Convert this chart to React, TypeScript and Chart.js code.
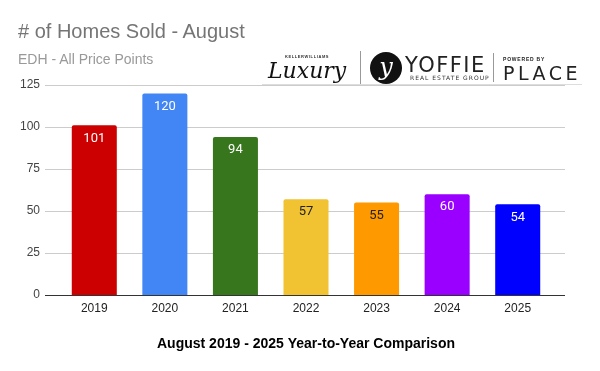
import React, { useEffect, useRef } from "react";
import { Chart, registerables } from "chart.js";

Chart.register(...registerables);

const categories = ["2019", "2020", "2021", "2022", "2023", "2024", "2025"];
const homesSold = [101, 120, 94, 57, 55, 60, 54];
const barColors = ["#cc0000", "#4285f4", "#38761d", "#f1c232", "#ff9900", "#9900ff", "#0000ff"];
const labelColors = ["#ffffff", "#ffffff", "#ffffff", "#222222", "#222222", "#ffffff", "#ffffff"];
const yTicks = [0, 25, 50, 75, 100, 125];

const titleText = "# of Homes Sold - August";
const subtitleText = "EDH - All Price Points";
const xTitleText = "August 2019 - 2025 Year-to-Year Comparison";

const gridPlugin = {
  id: "extGrid",
  beforeDatasetsDraw(chart: any) {
    const { ctx } = chart;
    const y = chart.scales.y;
    ctx.save();
    ctx.strokeStyle = "#cccccc";
    ctx.lineWidth = 1;
    yTicks.forEach((v) => {
      if (v === 0) return;
      const py = Math.round(y.getPixelForValue(v)) + 0.5;
      ctx.beginPath();
      ctx.moveTo(45, py);
      ctx.lineTo(565, py);
      ctx.stroke();
    });
    ctx.restore();
  },
  afterDatasetsDraw(chart: any) {
    const { ctx } = chart;
    const y = chart.scales.y;
    ctx.save();
    const py = Math.round(y.getPixelForValue(0)) + 0.5;
    ctx.strokeStyle = "#333333";
    ctx.lineWidth = 1;
    ctx.beginPath();
    ctx.moveTo(45, py);
    ctx.lineTo(565, py);
    ctx.stroke();
    const meta = chart.getDatasetMeta(0);
    ctx.font = "13px Roboto";
    ctx.textAlign = "center";
    ctx.textBaseline = "middle";
    meta.data.forEach((bar: any, i: number) => {
      ctx.fillStyle = labelColors[i];
      ctx.fillText(String(homesSold[i]), bar.x, bar.y + 13);
    });
    ctx.restore();
  },
};

function BarChart() {
  const ref = useRef<HTMLCanvasElement | null>(null);
  useEffect(() => {
    if (!ref.current) return;
    const chart = new Chart(ref.current, {
      type: "bar",
      data: {
        labels: categories,
        datasets: [
          {
            data: homesSold,
            backgroundColor: barColors,
            borderRadius: 2,
            borderSkipped: "start",
            barPercentage: 0.638,
            categoryPercentage: 1,
          },
        ],
      },
      options: {
        animation: false,
        responsive: false,
        maintainAspectRatio: false,
        layout: { padding: { top: 85, right: 47, left: 0, bottom: 0 } },
        plugins: {
          legend: { display: false },
          tooltip: { enabled: false },
          title: { display: false },
        },
        scales: {
          x: {
            grid: { display: false, drawTicks: false },
            border: { display: false },
            ticks: {
              color: "#222222",
              font: { family: "Arial, 'Liberation Sans'", size: 12 },
              padding: 6,
            },
            title: {
              display: true,
              text: xTitleText,
              color: "#000000",
              font: { family: "Arial, 'Liberation Sans'", size: 14, weight: "bold" },
              padding: { top: 0, bottom: 18 },
            },
            afterFit(scale: any) {
              scale.height = 76;
            },
          },
          y: {
            min: 0,
            max: 125,
            grid: { display: false, drawTicks: false },
            border: { display: false },
            afterBuildTicks(scale: any) {
              scale.ticks = yTicks.map((v) => ({ value: v }));
            },
            ticks: {
              color: "#444444",
              font: { family: "Arial, 'Liberation Sans'", size: 12 },
              padding: 19,
            },
            afterFit(scale: any) {
              scale.width = 59;
            },
          },
        },
      },
      plugins: [gridPlugin],
    });
    return () => chart.destroy();
  }, []);
  return <canvas ref={ref} width={600} height={371} style={{ position: "absolute", left: 0, top: 0, width: 600, height: 371 }} />;
}

function Logo() {
  const base: React.CSSProperties = { position: "absolute", whiteSpace: "nowrap", lineHeight: 1 };
  return (
    <div style={{ position: "absolute", left: 0, top: 0, width: 600, height: 100, pointerEvents: "none" }}>
      <div style={{ ...base, left: 285, top: 55, fontSize: 4, fontWeight: "bold", letterSpacing: 0.6, fontFamily: "Arial", color: "#333" }}>KELLERWILLIAMS</div>
      <div style={{ ...base, left: 268, top: 60, fontSize: 22, fontStyle: "italic", fontFamily: "'DejaVu Serif'", color: "#111", letterSpacing: 0 }}>Luxury</div>
      <div style={{ position: "absolute", left: 360, top: 51, width: 1, height: 33, background: "#999" }} />
      <div style={{ position: "absolute", left: 370, top: 52, width: 32, height: 32, borderRadius: 16, background: "#111", color: "#fff", fontSize: 24, fontStyle: "italic", fontFamily: "'DejaVu Serif'", textAlign: "center", lineHeight: "30px" }}>y</div>
      <div style={{ ...base, left: 405, top: 55, fontSize: 21, fontFamily: "'DejaVu Sans'", color: "#222", letterSpacing: 1.5 }}>YOFFIE</div>
      <div style={{ ...base, left: 410, top: 75, fontSize: 6, fontFamily: "'DejaVu Sans'", color: "#333", letterSpacing: 1 }}>REAL ESTATE GROUP</div>
      <div style={{ position: "absolute", left: 493, top: 53, width: 1, height: 29, background: "#999" }} />
      <div style={{ ...base, left: 503, top: 57, fontSize: 5, fontWeight: "bold", fontFamily: "Arial", color: "#222", letterSpacing: 0.8 }}>POWERED BY</div>
      <div style={{ ...base, left: 503, top: 64, fontSize: 19, fontFamily: "'DejaVu Sans'", color: "#222", letterSpacing: 3.5 }}>PLACE</div>
      <div style={{ position: "absolute", left: 262, top: 84, width: 320, height: 1, background: "#ddd" }} />
    </div>
  );
}

export default function App() {
  return (
    <div style={{ position: "absolute", left: 0, top: 0, width: 600, height: 371, background: "#fff", overflow: "hidden" }}>
      <BarChart />
      <div style={{ position: "absolute", left: 18, top: 21, fontSize: 20, fontFamily: "Arial, 'Liberation Sans'", color: "#757575", lineHeight: 1, whiteSpace: "nowrap" }}>{titleText}</div>
      <div style={{ position: "absolute", left: 18, top: 52, fontSize: 14, fontFamily: "Arial, 'Liberation Sans'", color: "#999999", lineHeight: 1, whiteSpace: "nowrap" }}>{subtitleText}</div>
      <Logo />
    </div>
  );
}
